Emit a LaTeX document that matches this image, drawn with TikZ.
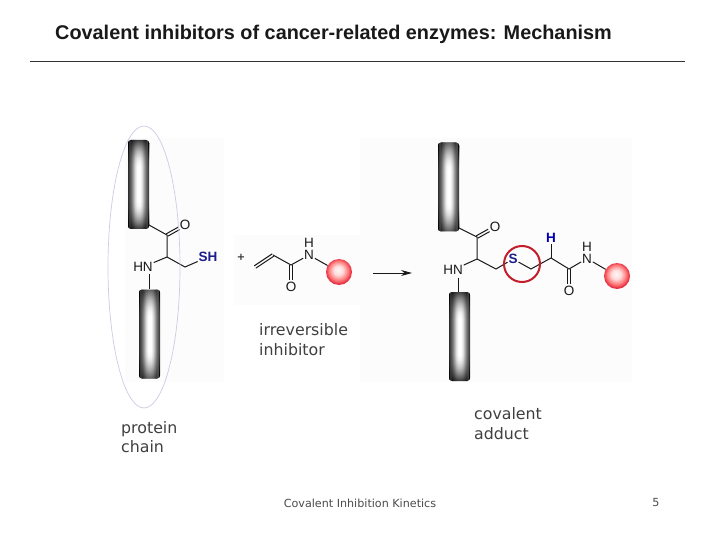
\documentclass[tikz,border=0pt]{standalone}
\usepackage{fontspec}
\setmainfont{Liberation Sans}
\newfontfamily\lblfont{DejaVu Sans}
\usetikzlibrary{arrows.meta,shapes.geometric,calc}
\definecolor{patch}{HTML}{FCFCFD}
\definecolor{sblue}{HTML}{1C1C8C}
\definecolor{ringred}{HTML}{C41E2A}
\definecolor{chainline}{HTML}{CCCCE4}
\definecolor{ballrim}{HTML}{E62A3C}
\pgfdeclarehorizontalshading{barh}{100bp}{color(0bp)=(black!82); color(25bp)=(black!82); color(33bp)=(black!55); color(42bp)=(black!12); color(47bp)=(white); color(53bp)=(white); color(58bp)=(black!12); color(67bp)=(black!55); color(75bp)=(black!82); color(100bp)=(black!82)}
\pgfdeclareradialshading{ballr}{\pgfpoint{-2bp}{4bp}}{color(0bp)=(red!3); color(9bp)=(red!14); color(18bp)=(red!50); color(25bp)=(ballrim); color(50bp)=(ballrim)}
\newcommand{\barfadeends}{%
  \foreach \i in {0,...,27}{
    \pgfmathsetmacro{\op}{0.72*(1-\i/28)*(1-\i/28)}
    \fill[black,opacity=\op] ([yshift=-\i pt]path picture bounding box.north west) rectangle ([yshift=-\i pt-1pt]path picture bounding box.north east);
    \fill[black,opacity=\op] ([yshift=\i pt]path picture bounding box.south west) rectangle ([yshift=\i pt+1pt]path picture bounding box.south east);
  }}
\newcommand{\dblbond}[3][0pt]{%
  \draw[bond,shorten >=#1] ($(#2)!1.4pt!90:(#3)$) -- ($(#3)!1.4pt!-90:(#2)$);
  \draw[bond,shorten >=#1] ($(#2)!1.4pt!-90:(#3)$) -- ($(#3)!1.4pt!90:(#2)$);}
\tikzset{
  x=1pt,y=-1pt,
  barnode/.style={rectangle,rounded corners=3pt,inner sep=0pt,minimum width=21pt,minimum height=89pt,
    shade,shading=barh,path picture={\barfadeends}},
  ballnode/.style={circle,inner sep=0pt,minimum size=26pt,shade,shading=ballr},
  atom/.style={inner sep=0pt,outer sep=1pt,font=\fontsize{13.5}{14}\selectfont,text=black!90},
  hetero/.style={inner sep=0pt,outer sep=1pt,font=\fontsize{13.5}{14}\selectfont\bfseries,text=sblue},
  bond/.style={draw=black!90,line width=1pt},
  lbl/.style={anchor=west,inner sep=0pt,text=black!75,font=\lblfont\fontsize{15.8}{19.3}\selectfont,align=left},
  foot/.style={inner sep=0pt,text=black!70,font=\lblfont\fontsize{11.15}{12}\selectfont},
}
\begin{document}
\begin{tikzpicture}
\useasboundingbox (0,0) rectangle (720,540);
\fill[white] (0,0) rectangle (720,540);
\fill[patch] (125,138) rectangle (224,382);
\fill[patch] (234,235) rectangle (360,305);
\fill[patch] (360,138) rectangle (632,382);
% title
\node[anchor=base west,inner sep=0pt,font=\fontsize{19.85}{22}\selectfont\bfseries,text=black!90] (title) at (55,39.5) {Covalent inhibitors of cancer-related enzymes: Mechanism};
\coordinate (ruleL) at (30,61); \coordinate (ruleR) at (685,61);
\draw[line width=.7pt,black!80] (ruleL) -- (ruleR);
% left fragment
\node[barnode] (barA) at (138.5,184.5) {};
\node[barnode] (barB) at (149.5,334) {};
\coordinate (a1) at (149,225);
\coordinate (cA) at (167,235);
\coordinate (caA) at (167,257);
\coordinate (cbA) at (185,267);
\node[atom] (oA) at (185,225) {O};
\node[atom] (hnA) at (143,267) {HN};
\node[hetero] (shA) at (208,257) {SH};
\draw[bond] (a1) -- (cA) -- (caA) -- (cbA) -- (shA);
\draw[bond] (caA) -- (hnA);
\dblbond[7pt]{cA}{oA}
\draw[bond] (149,274) -- (barB.north -| 149,0);
\node[font=\lblfont\bfseries\fontsize{10}{10}\selectfont,text=black!80,inner sep=0pt] (plus) at (241,257) {+};
% inhibitor
\coordinate (v1) at (255,267);
\coordinate (v2) at (273,255);
\coordinate (cI) at (291,265);
\node[atom] (oI) at (291,287) {O};
\node[atom] (nI) at (309,255) {N};
\node[atom] (hI) at (309,242.5) {H};
\node[ballnode] (ballI) at (339,272) {};
\dblbond{v1}{v2}
\draw[bond] (v2) -- (cI) -- (nI) -- (ballI);
\dblbond[7pt]{cI}{oI}
% arrow
\coordinate (arS) at (373,273); \coordinate (arE) at (412,273);
\draw[bond,-{Stealth[length=11pt,width=6pt]}] (arS) -- (arE);
% product
\node[barnode] (barC) at (448.5,187) {};
\node[barnode] (barD) at (459.5,336.5) {};
\coordinate (a2) at (459,228);
\coordinate (cP) at (477,237);
\coordinate (caP) at (477,259);
\coordinate (cbP) at (496,269);
\coordinate (cd) at (531,269);
\coordinate (ce) at (551,258);
\coordinate (cf) at (569,269);
\node[atom] (oP) at (495,227) {O};
\node[atom] (hnP) at (453,270) {HN};
\node[hetero] (sP) at (513,259) {S};
\node[hetero,text=blue!70!black] (hP) at (551,238) {H};
\node[atom] (oQ) at (569,291) {O};
\node[atom] (nQ) at (587,258.5) {N};
\node[atom] (hQ) at (587,246.5) {H};
\node[ballnode] (ballQ) at (617,276) {};
\draw[bond] (a2) -- (cP) -- (caP) -- (cbP) -- (sP) -- (cd) -- (ce) -- (cf) -- (nQ) -- (ballQ);
\draw[bond] (caP) -- (hnP);
\draw[bond] (ce) -- (hP);
\dblbond[7pt]{cP}{oP}
\dblbond[7pt]{cf}{oQ}
\draw[bond] (458,278) -- (barD.north -| 458,0);
\node[circle,draw=ringred,line width=2pt,minimum size=36pt,inner sep=0pt] (ring) at (522,264) {};
% ellipse
\node[ellipse,draw=chainline,line width=.7pt,minimum width=72pt,minimum height=282pt,inner sep=0pt] (chain) at (144,267) {};
% labels
\node[lbl] (irr) at (259,339.5) {irreversible\\inhibitor};
\node[lbl] (prot) at (121,437) {protein\\chain};
\node[lbl] (cov) at (474,423.5) {covalent\\adduct};
\node[foot] (ft) at (360,503) {Covalent Inhibition Kinetics};
\node[foot] (pg) at (656,503) {5};
\end{tikzpicture}
\end{document}
